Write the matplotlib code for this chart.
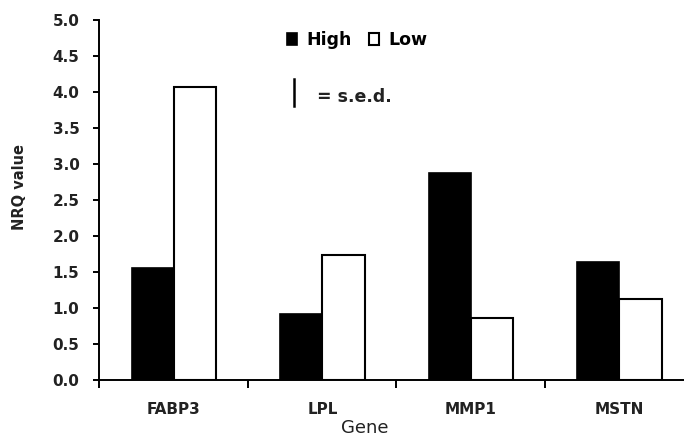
import numpy as np
import matplotlib.pyplot as plt
from matplotlib.lines import Line2D

# --------------------------------------------------
# Data (NRQ values)
# --------------------------------------------------
genes = ["FABP3", "LPL", "MMP1", "MSTN"]
high = [1.56, 0.92, 2.87, 1.64]
low = [4.07, 1.73, 0.86, 1.12]
yticks = [0.0, 0.5, 1.0, 1.5, 2.0, 2.5, 3.0, 3.5, 4.0, 4.5, 5.0]

plt.rcParams['font.family'] = ['DejaVu Sans']

fig = plt.figure(figsize=(6.84, 4.38), dpi=100)
ax = fig.add_axes([99 / 684, 58 / 438, 585 / 684, 360 / 438])

x = np.arange(len(genes)) + 0.505
w = 0.285
bh = ax.bar(x - w / 2, high, width=w, color='black', edgecolor='black', linewidth=1.2, label='High')
bl = ax.bar(x + w / 2, low, width=w, color='white', edgecolor='black', linewidth=1.5, label='Low')

ax.set_xlim(0, 585 / 148.5)
ax.set_ylim(0, 5.0)

# axes look
for s in ['top', 'right']:
    ax.spines[s].set_visible(False)
for s in ['left', 'bottom']:
    ax.spines[s].set_linewidth(1.4)

ax.set_yticks(yticks)
ax.set_yticklabels([f"{v:.1f}" for v in yticks], fontsize=11, fontweight='bold', color='#222222')
ax.tick_params(axis='y', length=4, width=1.4, pad=10)

# category boundaries as major ticks, names on minor ticks
ax.set_xticks(np.arange(len(genes)))
ax.set_xticklabels([])
ax.tick_params(axis='x', which='major', length=6, width=1.4)
ax.set_xticks(x, minor=True)
ax.set_xticklabels(genes, minor=True, fontsize=11, fontweight='bold', color='#222222')
ax.tick_params(axis='x', which='minor', length=0, pad=16)

ax.set_ylabel("NRQ value", fontsize=10.5, fontweight='bold', color='#222222')
ax.yaxis.set_label_coords(-0.123, 0.536)
ax.set_xlabel("Gene", fontsize=13, color='#222222')
ax.xaxis.set_label_coords(0.455, -0.108)
ax.xaxis.label.set_va('top')

# legend
ax.legend(handles=[bh, bl], labels=['High', 'Low'], ncol=2, frameon=False,
          loc='center left', bbox_to_anchor=(287 / 684, 1 - 40 / 438),
          bbox_transform=fig.transFigure, prop={'size': 12.5, 'weight': 'bold'},
          handlelength=0.6, handleheight=0.65, handletextpad=0.5,
          columnspacing=1.0, borderpad=0, borderaxespad=0)

# s.e.d. key
ax.add_line(Line2D([0.333, 0.333], [0.761, 0.836], transform=ax.transAxes,
                   color='black', linewidth=1.8, clip_on=False))
ax.text(0.3726, 0.786, "= s.e.d.", transform=ax.transAxes, fontsize=12.5,
        fontweight='bold', va='center', ha='left', color='#222222')

fig.savefig("out.png", dpi=100)
